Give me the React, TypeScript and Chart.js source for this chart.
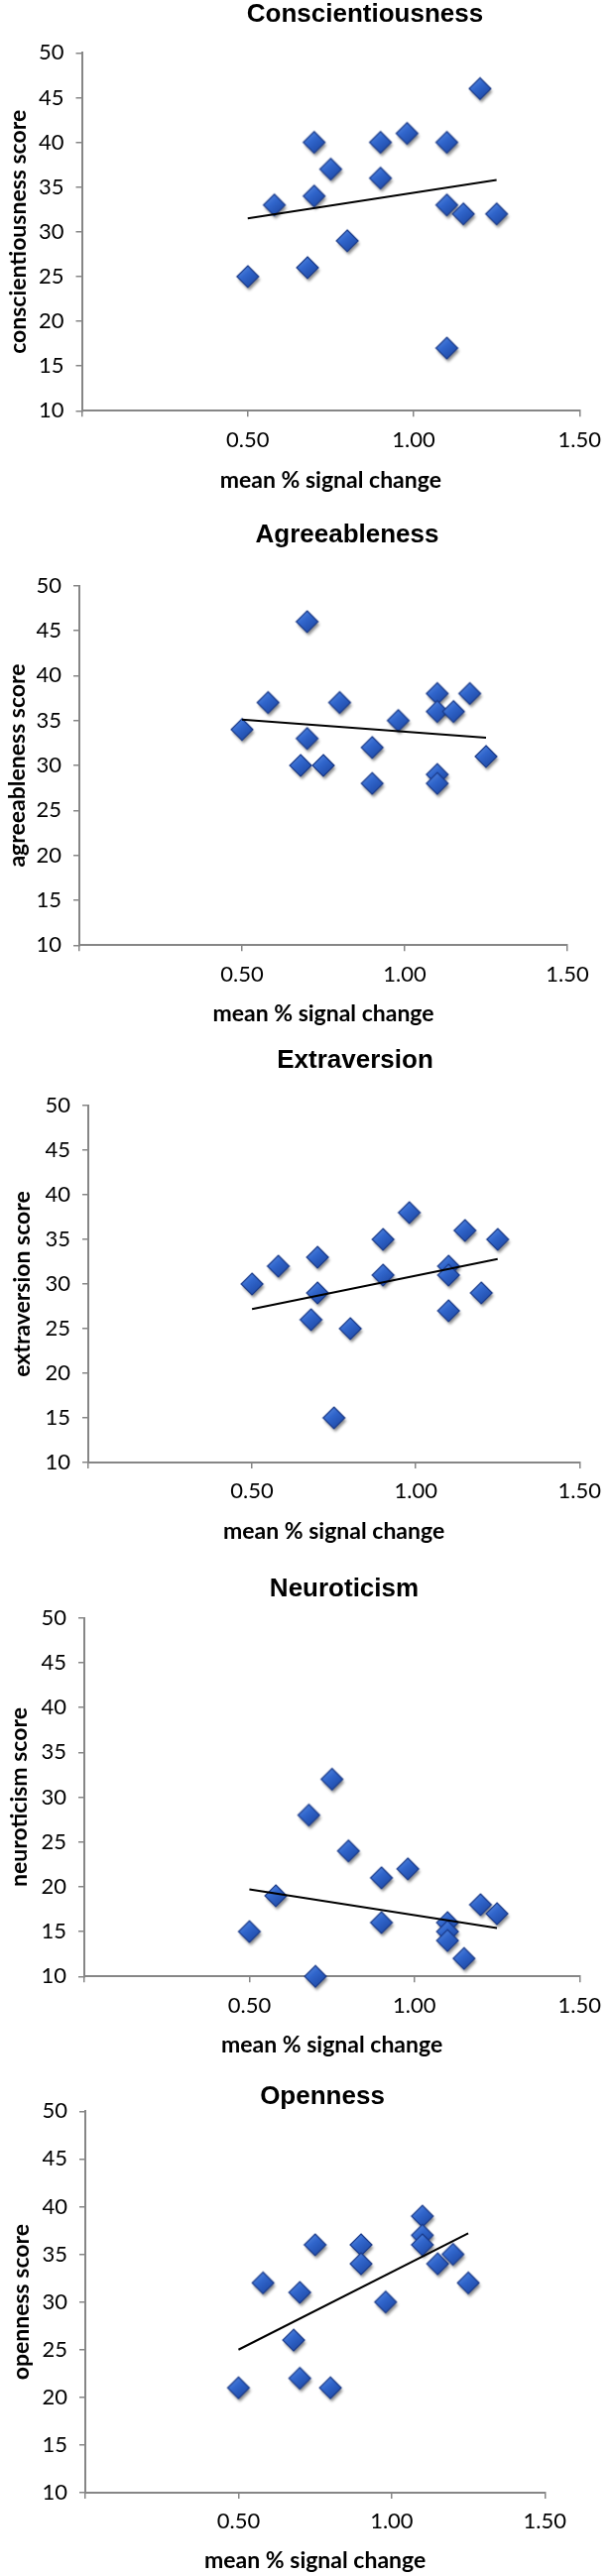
import React, { useEffect, useRef } from 'react';
import { Chart, registerables } from 'chart.js';

Chart.register(...registerables);

// ---------- data ----------
const TITLES = ['Conscientiousness', 'Agreeableness', 'Extraversion', 'Neuroticism', 'Openness'];
const Y_TITLES = ['conscientiousness score', 'agreeableness score', 'extraversion score', 'neuroticism score', 'openness score'];
const X_TITLE = 'mean % signal change';

const X_TICKS = [0, 0.5, 1.0, 1.5];
const X_TICK_LABELS = ['', '0.50', '1.00', '1.50'];
const Y_TICKS = [10, 15, 20, 25, 30, 35, 40, 45, 50];
const Y_TICK_LABELS = ['10', '15', '20', '25', '30', '35', '40', '45', '50'];

const CONSC_X = [0.50, 0.58, 0.68, 0.70, 0.70, 0.75, 0.80, 0.90, 0.90, 0.98, 1.10, 1.10, 1.10, 1.15, 1.20, 1.25];
const CONSC_Y = [25, 33, 26, 40, 34, 37, 29, 40, 36, 41, 40, 33, 17, 32, 46, 32];
const CONSC_TREND_X = [0.50, 1.25];
const CONSC_TREND_Y = [31.5, 35.8];

const AGREE_X = [0.50, 0.58, 0.68, 0.70, 0.70, 0.75, 0.80, 0.90, 0.90, 0.98, 1.10, 1.10, 1.10, 1.10, 1.15, 1.20, 1.25];
const AGREE_Y = [34, 37, 30, 46, 33, 30, 37, 32, 28, 35, 38, 36, 29, 28, 36, 38, 31];
const AGREE_TREND_X = [0.50, 1.25];
const AGREE_TREND_Y = [35.1, 33.1];

const EXTRA_X = [0.50, 0.58, 0.68, 0.70, 0.70, 0.75, 0.80, 0.90, 0.90, 0.98, 1.10, 1.10, 1.10, 1.15, 1.20, 1.25];
const EXTRA_Y = [30, 32, 26, 33, 29, 15, 25, 35, 31, 38, 32, 31, 27, 36, 29, 35];
const EXTRA_TREND_X = [0.50, 1.25];
const EXTRA_TREND_Y = [27.2, 32.8];

const NEURO_X = [0.50, 0.58, 0.68, 0.70, 0.75, 0.80, 0.90, 0.90, 0.98, 1.10, 1.10, 1.10, 1.15, 1.20, 1.25];
const NEURO_Y = [15, 19, 28, 10, 32, 24, 21, 16, 22, 16, 15, 14, 12, 18, 17];
const NEURO_TREND_X = [0.50, 1.25];
const NEURO_TREND_Y = [19.7, 15.4];

const OPEN_X = [0.50, 0.58, 0.68, 0.70, 0.70, 0.75, 0.80, 0.90, 0.90, 0.98, 1.10, 1.10, 1.10, 1.15, 1.20, 1.25];
const OPEN_Y = [21, 32, 26, 31, 22, 36, 21, 36, 34, 30, 39, 37, 36, 34, 35, 32];
const OPEN_TREND_X = [0.50, 1.25];
const OPEN_TREND_Y = [25.0, 37.2];

const SERIES_X = [CONSC_X, AGREE_X, EXTRA_X, NEURO_X, OPEN_X];
const SERIES_Y = [CONSC_Y, AGREE_Y, EXTRA_Y, NEURO_Y, OPEN_Y];
const TREND_X = [CONSC_TREND_X, AGREE_TREND_X, EXTRA_TREND_X, NEURO_TREND_X, OPEN_TREND_X];
const TREND_Y = [CONSC_TREND_Y, AGREE_TREND_Y, EXTRA_TREND_Y, NEURO_TREND_Y, OPEN_TREND_Y];

// ---------- layout (page pixels) ----------
const PAGE_W = 616;
const LAYOUT = [
  { top: 0, height: 520, axisX: 82.5, rightX: 588.5, y50: 53.3, y10: 414.3, titleX: 368, titleY: 15, xTitleY: 485, yTitleX: 19 },
  { top: 520, height: 520, axisX: 80, rightX: 572, y50: 70.7, y10: 433.3, titleX: 350, titleY: 20, xTitleY: 503, yTitleX: 18 },
  { top: 1040, height: 520, axisX: 89, rightX: 588, y50: 75, y10: 435, titleX: 358, titleY: 30, xTitleY: 505, yTitleX: 23 },
  { top: 1560, height: 520, axisX: 85, rightX: 594.5, y50: 71.7, y10: 433.3, titleX: 347, titleY: 43, xTitleY: 503, yTitleX: 20 },
  { top: 2080, height: 518, axisX: 86, rightX: 549.3, y50: 49.3, y10: 434, titleX: 325, titleY: 35, xTitleY: 503, yTitleX: 22 },
];

const AXIS_COLOR = '#868686';
const LABEL_FONT = 'Lato, "Open Sans", sans-serif';
const TITLE_FONT = '"Liberation Sans", Arial, Helvetica, sans-serif';
const TICK_SIZE = 22;
const AXIS_TITLE_SIZE = 23;

let markerCache: HTMLCanvasElement | null = null;
function diamondMarker(): HTMLCanvasElement {
  if (markerCache) return markerCache;
  const c = document.createElement('canvas');
  c.width = 34;
  c.height = 34;
  const g = c.getContext('2d')!;
  const cx = 17, cy = 17, r = 11;
  const path = () => {
    g.beginPath();
    g.moveTo(cx, cy - r);
    g.lineTo(cx + r, cy);
    g.lineTo(cx, cy + r);
    g.lineTo(cx - r, cy);
    g.closePath();
  };
  g.save();
  g.shadowColor = 'rgba(0,0,0,0.45)';
  g.shadowBlur = 3;
  g.shadowOffsetX = 1.5;
  g.shadowOffsetY = 3;
  path();
  const grad = g.createLinearGradient(cx - r, cy - r, cx + r * 0.6, cy + r);
  grad.addColorStop(0, '#6496e8');
  grad.addColorStop(0.45, '#3166cc');
  grad.addColorStop(1, '#1d47a3');
  g.fillStyle = grad;
  g.fill();
  g.restore();
  path();
  g.strokeStyle = '#1a3987';
  g.lineWidth = 1.2;
  g.stroke();
  markerCache = c;
  return c;
}

const panelTitlePlugin = {
  id: 'panelTitle',
  afterDraw(chart: any, _args: any, opts: any) {
    const ctx = chart.ctx;
    ctx.save();
    ctx.font = `bold 26px ${TITLE_FONT}`;
    ctx.fillStyle = '#000';
    ctx.textAlign = 'center';
    ctx.textBaseline = 'middle';
    ctx.fillText(opts.text, opts.x, opts.y);
    ctx.restore();
  },
};

function Panel({ index }: { index: number }) {
  const ref = useRef<HTMLCanvasElement | null>(null);
  const L = LAYOUT[index];

  useEffect(() => {
    if (!ref.current) return;
    const xs = SERIES_X[index];
    const ys = SERIES_Y[index];
    const pts = xs.map((x, i) => ({ x, y: ys[i] }));
    const trend = TREND_X[index].map((x, i) => ({ x, y: TREND_Y[index][i] }));
    const lh = AXIS_TITLE_SIZE * 1.2;

    const chart = new Chart(ref.current, {
      type: 'scatter',
      data: {
        datasets: [
          {
            label: 'trend',
            data: trend,
            showLine: true,
            borderColor: '#000',
            borderWidth: 2,
            pointRadius: 0,
            order: 0,
            clip: false,
          } as any,
          {
            label: TITLES[index],
            data: pts,
            pointStyle: diamondMarker(),
            pointRadius: 11,
            order: 1,
            clip: false,
          } as any,
        ],
      },
      options: {
        responsive: false,
        animation: false,
        events: [],
        layout: { padding: { top: L.y50, left: 0, right: PAGE_W - L.rightX, bottom: 0 } },
        plugins: {
          legend: { display: false },
          tooltip: { enabled: false },
          panelTitle: { text: TITLES[index], x: L.titleX, y: L.titleY },
        } as any,
        scales: {
          x: {
            type: 'linear',
            min: 0,
            max: 1.5,
            afterBuildTicks: (s: any) => {
              s.ticks = X_TICKS.map((v) => ({ value: v }));
            },
            afterFit: (s: any) => {
              s.height = L.height - L.y10;
            },
            ticks: {
              autoSkip: false,
              maxRotation: 0,
              padding: 10,
              color: '#000',
              font: { family: LABEL_FONT, size: TICK_SIZE },
              callback: (_v: any, i: number) => X_TICK_LABELS[i],
            },
            grid: { display: true, drawOnChartArea: false, drawTicks: true, tickLength: 6, color: AXIS_COLOR, lineWidth: 1.5 },
            border: { display: true, color: AXIS_COLOR, width: 2 },
            title: {
              display: true,
              text: X_TITLE,
              color: '#000',
              font: { family: LABEL_FONT, size: AXIS_TITLE_SIZE, weight: 'bold' },
              padding: { top: 0, bottom: L.height - L.xTitleY - lh / 2 },
            },
          },
          y: {
            type: 'linear',
            min: 10,
            max: 50,
            afterBuildTicks: (s: any) => {
              s.ticks = Y_TICKS.map((v) => ({ value: v }));
            },
            afterFit: (s: any) => {
              s.width = L.axisX;
            },
            ticks: {
              autoSkip: false,
              padding: 12,
              color: '#000',
              font: { family: LABEL_FONT, size: TICK_SIZE },
              callback: (_v: any, i: number) => Y_TICK_LABELS[i],
            },
            grid: { display: true, drawOnChartArea: false, drawTicks: true, tickLength: 6, color: AXIS_COLOR, lineWidth: 1.5 },
            border: { display: true, color: AXIS_COLOR, width: 2 },
            title: {
              display: true,
              text: Y_TITLES[index],
              color: '#000',
              font: { family: LABEL_FONT, size: AXIS_TITLE_SIZE, weight: 'bold' },
              padding: { top: L.yTitleX - lh / 2, bottom: 0 },
            },
          },
        },
      } as any,
      plugins: [panelTitlePlugin as any],
    });
    return () => chart.destroy();
  }, [index]);

  return (
    <canvas
      ref={ref}
      width={PAGE_W}
      height={L.height}
      style={{ position: 'absolute', left: 0, top: L.top, width: PAGE_W, height: L.height, display: 'block' }}
    />
  );
}

export default function App() {
  return (
    <div style={{ position: 'absolute', left: 0, top: 0, width: PAGE_W, height: 2598, background: '#fff', overflow: 'hidden' }}>
      {TITLES.map((_, i) => (
        <Panel key={i} index={i} />
      ))}
    </div>
  );
}
